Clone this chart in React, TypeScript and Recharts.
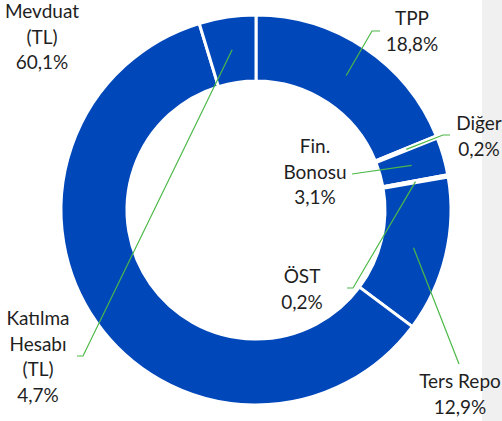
import { Pie, PieChart } from "recharts";

const categories = ["TPP", "Diğer", "Fin. Bonosu", "ÖST", "Ters Repo", "Mevduat (TL)", "Katılma Hesabı (TL)"];
const shares = [18.8, 0.2, 3.1, 0.2, 12.9, 60.1, 4.7];
// how each category name is wrapped in its label
const labelLines = [["TPP"], ["Diğer"], ["Fin.", "Bonosu"], ["ÖST"], ["Ters Repo"], ["Mevduat", "(TL)"], ["Katılma", "Hesabı", "(TL)"]];

const data = categories.map((name, i) => ({ name, value: shares[i] }));

const BLUE = "#0047BA";
const GREEN = "#4DB848";
const LINE_H = 25.5;

// label placement: text centre x, first baseline y, leader elbow/end points
const labelLayout: Record<string, { x: number; y: number; leader?: number[][] }> = {
  "TPP": { x: 412, y: 25, leader: [[372, 31], [380, 31]] },
  "Diğer": { x: 479, y: 130, leader: [[443, 135], [450, 135]] },
  "Fin. Bonosu": { x: 315, y: 153, leader: [[352, 174]] },
  "ÖST": { x: 302, y: 283, leader: [[353, 288], [347, 288]] },
  "Ters Repo": { x: 460, y: 388, leader: [[459, 364]] },
  "Mevduat (TL)": { x: 42, y: 18 },
  "Katılma Hesabı (TL)": { x: 38, y: 325, leader: [[83, 356], [77, 356]] }
};

const fmt = (v: number) => v.toFixed(1).replace(".", ",") + "%";

function renderLabel(props: any) {
  const { cx, cy, midAngle, innerRadius, outerRadius, index } = props;
  const name = categories[index];
  const pos = labelLayout[name];
  const rad = (Math.PI / 180) * midAngle;
  const r = (innerRadius + outerRadius) / 2;
  const sx = cx + r * Math.cos(rad);
  const sy = cy - r * Math.sin(rad);
  const lines = [...labelLines[index], fmt(shares[index])];
  return (
    <g key={name}>
      {pos.leader && (
        <polyline
          points={[[sx, sy], ...pos.leader].map((p) => p.join(",")).join(" ")}
          fill="none"
          stroke={GREEN}
          strokeWidth={1.2}
        />
      )}
      <text x={pos.x} textAnchor="middle" fill="#1f1f1f" fontSize={19} fontFamily="Lato, sans-serif">
        {lines.map((t, i) => (
          <tspan key={i} x={pos.x} y={pos.y + i * LINE_H}>
            {t}
          </tspan>
        ))}
      </text>
    </g>
  );
}

export default function App() {
  return (
    <div style={{ position: "absolute", left: 0, top: 0, width: 502, height: 421, background: "#fff" }}>
      <div style={{ position: "absolute", left: 482, top: 0, width: 20, height: 421, background: "#F0F0F0" }} />
      <div style={{ position: "absolute", left: 0, top: 0 }}>
        <PieChart width={502} height={421} margin={{ top: 0, right: 0, bottom: 0, left: 0 }}>
          <Pie
            data={data}
            dataKey="value"
            nameKey="name"
            cx={256}
            cy={210}
            innerRadius={129}
            outerRadius={195}
            startAngle={90}
            endAngle={-270}
            fill={BLUE}
            stroke="#fff"
            strokeWidth={3}
            label={renderLabel}
            labelLine={false}
            isAnimationActive={false}
          />
        </PieChart>
      </div>
    </div>
  );
}
